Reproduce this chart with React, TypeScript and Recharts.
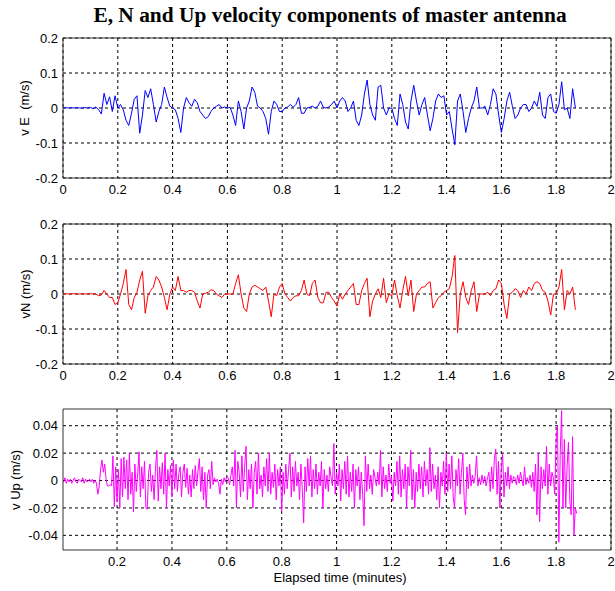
import React from 'react';
import { LineChart, Line, XAxis, YAxis, CartesianGrid } from 'recharts';

// ---- data ----
const EN_START = 0;
const EN_STEP = 0.01;
const UP_START = 0.005;
const UP_STEP = 0.005;

const vE = [
  0, 0.001, 0, 0.001, 0, 0.001, 0, 0, 0.001, 0,
  0.002, -0.002, 0.003, -0.005, -0.017, 0.042, 0.01, 0.032, -0.01, 0.035,
  0.0, 0.01, -0.005, -0.035, -0.05, -0.015, 0.025, 0.035, -0.072, -0.02,
  0.05, 0.03, 0.055, 0.01, -0.04, -0.01, 0.01, 0.06, 0.03, 0.005,
  0.0, -0.005, -0.03, -0.07, 0.0, 0.03, 0.015, 0.005, 0.025, 0.015,
  -0.01, -0.02, -0.03, -0.025, -0.01, 0.0, 0.005, 0.01, 0.0, 0.003,
  0.0, 0.002, -0.02, -0.05, 0.02, -0.01, -0.06, 0.0, 0.02, 0.06,
  0.045, 0.005, 0.0, -0.01, -0.03, -0.075, -0.01, 0.02, 0.01, -0.01,
  -0.01, 0.0, 0.003, 0.01, 0.002, 0.01, 0.03, -0.015, -0.015, 0.0,
  0.002, 0.005, 0.0, 0.005, 0.02, 0.002, 0.0, 0.003, 0.01, 0.02,
  0.0, 0.02, 0.03, 0.02, -0.01, 0.0, 0.02, -0.035, -0.05, -0.02,
  0.04, 0.08, 0.01, -0.02, -0.035, 0.06, 0.065, 0.0, -0.02, 0.0,
  0.0, -0.03, -0.05, 0.04, 0.01, -0.04, -0.06, 0.02, 0.065, 0.02,
  -0.02, 0.01, 0.03, -0.02, -0.065, -0.03, 0.02, 0.04, 0.03, 0.035,
  -0.02, -0.01, -0.06, -0.105, 0.02, 0.04, -0.01, -0.07, -0.03, 0.0,
  0.02, 0.06, 0.0, 0.0, 0.005, -0.02, 0.01, 0.055, 0.04, -0.02,
  -0.07, -0.03, 0.02, 0.045, 0.005, -0.03, -0.02, 0.0, 0.01, 0.01,
  -0.01, 0.0, 0.02, 0.005, 0.045, -0.02, -0.03, 0.03, 0.04, -0.01,
  -0.015, 0.01, 0.075, -0.005, 0.0, -0.03, 0.055, 0.0,
];

const vN = [
  0, 0.001, 0, 0, 0.001, 0, 0, 0.001, 0, 0,
  0.001, 0, 0.0, -0.005, -0.003, 0.01, 0.0, -0.01, -0.01, -0.03,
  -0.025, 0.0, 0.03, 0.07, -0.03, -0.045, -0.01, 0.005, 0.04, 0.065,
  -0.055, -0.005, 0.01, 0.02, 0.05, 0.04, 0.02, -0.01, -0.045, 0.0,
  0.02, 0.01, 0.05, 0.01, 0.01, 0.005, 0.01, 0.01, 0.005, -0.02,
  -0.04, 0.0, 0.002, 0.005, 0.012, 0.01, 0.0, -0.005, -0.01, 0.0,
  0.0, 0.0, 0.0, 0.03, 0.055, 0.0, -0.04, -0.05, 0.0, 0.02,
  0.025, 0.02, 0.015, 0.01, 0.02, -0.02, -0.065, 0.0, -0.005, 0.02,
  0.03, 0.0, -0.01, -0.02, -0.01, -0.005, -0.005, 0.01, 0.04, 0.0,
  -0.005, 0.03, 0.04, -0.01, -0.025, -0.025, 0.005, 0.005, -0.01, -0.02,
  -0.035, 0.0, -0.015, 0.0, 0.01, 0.02, 0.03, -0.03, -0.03, 0.01,
  0.03, 0.045, -0.065, -0.02, 0.0, 0.015, -0.01, 0.045, -0.025, 0.0,
  -0.005, 0.04, -0.005, -0.04, 0.01, 0.05, -0.005, 0.04, -0.05, 0.0,
  0.01, 0.02, 0.02, 0.03, 0.035, -0.04, -0.025, -0.01, -0.005, 0.005,
  0.01, 0.015, 0.05, 0.11, -0.11, 0.0, 0.035, -0.01, -0.03, 0.01,
  0.035, -0.05, 0.0, 0.0, 0.0, 0.005, -0.005, 0.01, 0.015, 0.04,
  0.03, -0.03, -0.07, 0.0, 0.005, 0.015, 0.01, -0.01, 0.01, 0.0,
  0.02, 0.01, 0.03, 0.035, 0.03, 0.01, 0.005, -0.02, -0.06, 0.0,
  0.0, 0.02, 0.07, -0.045, 0.01, 0.0, 0.02, -0.045,
];

const vUp = [
  -0.001, 0.002, -0.002, 0.001, -0.001, 0.001, -0.002, 0.0, 0.002, -0.001, -0.002, 0.001, 0.0, -0.001, 0.002, -0.002, 0.001, -0.001, 0.0, 0.001,
  -0.001, 0.001, -0.002, 0.0, -0.002, -0.01, -0.004, 0.008, 0.015, 0.006, 0.012, 0.001, -0.004, -0.004, -0.003, -0.004, 0.018, -0.019, 0.01, -0.015,
  0.008, -0.02, 0.016, -0.012, 0.017, -0.006, 0.015, -0.014, 0.02, -0.01, 0.006, -0.023, 0.012, -0.008, 0.004, 0.021, -0.012, 0.01, -0.006, 0.014,
  -0.02, -0.021, 0.006, 0.012, -0.008, 0.004, -0.014, 0.009, 0.022, -0.015, 0.01, -0.006, 0.013, -0.01, 0.02, -0.02, 0.008, -0.004, 0.011, -0.012,
  0.015, -0.006, 0.012, -0.008, 0.005, 0.01, -0.012, 0.006, 0.012, -0.005, 0.009, -0.01, 0.004, -0.012, 0.008, -0.006, 0.011, -0.004, 0.007, 0.016,
  -0.008, 0.01, -0.014, 0.006, -0.02, 0.004, 0.008, -0.006, 0.014, -0.003, 0.002, -0.001, 0.001, -0.002, -0.01, 0.001, -0.003, 0.002, -0.001, 0.003,
  0.002, -0.003, 0.004, 0.01, -0.004, 0.022, -0.02, 0.014, 0.006, -0.012, 0.018, -0.008, 0.01, 0.025, -0.014, 0.008, -0.006, 0.012, -0.02, 0.006,
  0.014, -0.01, 0.02, -0.006, 0.004, -0.012, 0.01, -0.004, 0.016, -0.008, 0.02, -0.01, 0.006, -0.005, 0.012, -0.014, 0.008, -0.004, 0.01, -0.022,
  0.006, -0.01, 0.012, -0.006, 0.008, 0.02, -0.012, 0.01, -0.008, 0.014, -0.004, 0.006, -0.014, 0.012, -0.006, -0.031, 0.01, -0.008, 0.016, -0.004,
  0.018, -0.012, 0.008, -0.006, 0.012, -0.01, 0.006, -0.004, 0.014, -0.02, 0.008, -0.006, 0.004, -0.008, 0.01, 0.002, -0.004, 0.027, -0.01, 0.006,
  -0.004, 0.012, -0.015, 0.008, -0.006, 0.014, -0.01, 0.018, -0.012, 0.006, -0.008, 0.012, -0.02, 0.008, -0.004, 0.01, -0.014, 0.006, -0.01, -0.033,
  0.018, -0.008, 0.012, -0.006, 0.004, -0.01, 0.008, 0.002, -0.004, 0.006, -0.003, 0.022, -0.012, 0.01, -0.006, 0.004, -0.008, 0.012, -0.002, 0.003,
  -0.015, 0.006, -0.004, 0.014, -0.01, 0.018, -0.012, 0.008, -0.006, 0.012, -0.02, 0.01, -0.004, 0.022, -0.014, 0.008, -0.02, 0.006, -0.008, 0.012,
  -0.006, 0.01, -0.012, 0.014, -0.004, 0.008, -0.01, 0.024, -0.008, 0.012, -0.006, 0.004, -0.014, 0.01, -0.02, 0.006, -0.004, 0.014, -0.01, 0.02,
  -0.008, 0.012, -0.006, 0.018, -0.012, -0.02, 0.008, -0.004, 0.016, -0.01, 0.006, 0.02, -0.014, -0.025, 0.01, -0.006, 0.012, -0.004, 0.004, -0.002,
  0.003, 0.018, -0.004, 0.002, -0.003, 0.004, -0.002, 0.003, -0.004, 0.002, 0.006, -0.008, 0.01, -0.006, 0.016, 0.023, -0.01, 0.014, -0.02, 0.008,
  0.02, -0.012, 0.006, -0.004, 0.01, -0.006, 0.004, -0.002, 0.003, 0.002, -0.003, 0.004, -0.002, 0.006, 0.001, -0.004, 0.01, -0.003, 0.002, -0.002,
  0.004, -0.005, 0.006, -0.008, 0.012, -0.025, 0.02, -0.03, 0.01, -0.006, 0.008, -0.004, 0.025, -0.01, 0.012, -0.004, 0.006, 0.002, -0.01, 0.03,
  0.04, -0.045, 0.02, 0.051, -0.02, 0.03, -0.02, 0.01, 0.028, -0.015, -0.025, 0.032, -0.04, -0.02, -0.024,
];

const xTicksEN = [0, 0.2, 0.4, 0.6, 0.8, 1, 1.2, 1.4, 1.6, 1.8, 2];
const xTicksUp = [0.2, 0.4, 0.6, 0.8, 1, 1.2, 1.4, 1.6, 1.8, 2];
const yTicksEN = [-0.2, -0.1, 0, 0.1, 0.2];
const yTicksUp = [-0.04, -0.02, 0, 0.02, 0.04];
const xDomainEN: [number, number] = [0, 2];
const xDomainUp: [number, number] = [0.003, 2];
const yDomainEN: [number, number] = [-0.2, 0.2];
const yDomainUp: [number, number] = [-0.0507, 0.0522];

const TITLE = 'E, N and Up velocity components of master antenna';
const X_LABEL = 'Elapsed time (minutes)';
const Y_LABELS = ['v E\u00a0 (m/s)', 'vN (m/s)', 'v Up (m/s)'];

const toData = (vals: number[], start: number, step: number) =>
  vals.map((v, i) => ({ t: Math.round((start + i * step) * 1000) / 1000, v }));

const dataE = toData(vE, EN_START, EN_STEP);
const dataN = toData(vN, EN_START, EN_STEP);
const dataUp = toData(vUp, UP_START, UP_STEP);

const SANS = 'Liberation Sans, Arial, Helvetica, sans-serif';
const tickStyle = { fontFamily: SANS, fontSize: 13, fill: '#000' };
const FRAME = '#333';

type PanelProps = {
  top: number;
  height: number;
  marginTop: number;
  xAxisHeight: number;
  data: { t: number; v: number }[];
  color: string;
  xDomain: [number, number];
  xTicks: number[];
  yDomain: [number, number];
  yTicks: number[];
};

function Panel(p: PanelProps) {
  return (
    <div style={{ position: 'absolute', left: 0, top: p.top }}>
      <LineChart
        width={615}
        height={p.height}
        data={p.data}
        margin={{ top: p.marginTop, right: 4, bottom: 0, left: 0 }}
      >
        <CartesianGrid
          stroke="#000"
          strokeDasharray="3 3"
          horizontalValues={p.yTicks}
          verticalValues={p.xTicks}
        />
        <XAxis
          type="number"
          dataKey="t"
          domain={p.xDomain}
          ticks={p.xTicks}
          interval={0}
          allowDataOverflow
          height={p.xAxisHeight}
          tickLine={false}
          tickSize={0}
          tickMargin={7}
          axisLine={{ stroke: FRAME }}
          tick={tickStyle}
        />
        <YAxis
          type="number"
          domain={p.yDomain}
          ticks={p.yTicks}
          interval={0}
          allowDataOverflow
          width={63}
          tickLine={false}
          tickSize={0}
          tickMargin={5}
          axisLine={{ stroke: FRAME }}
          tick={tickStyle}
        />
        <XAxis
          xAxisId="top"
          orientation="top"
          type="number"
          dataKey="t"
          domain={p.xDomain}
          ticks={p.xTicks}
          interval={0}
          allowDataOverflow
          mirror
          tick={false}
          tickSize={5}
          tickLine={{ stroke: FRAME }}
          axisLine={{ stroke: FRAME }}
        />
        <XAxis
          xAxisId="bottomTicks"
          orientation="bottom"
          type="number"
          dataKey="t"
          domain={p.xDomain}
          ticks={p.xTicks}
          interval={0}
          allowDataOverflow
          mirror
          tick={false}
          tickSize={5}
          tickLine={{ stroke: FRAME }}
          axisLine={false}
        />
        <YAxis
          yAxisId="right"
          orientation="right"
          type="number"
          domain={p.yDomain}
          ticks={p.yTicks}
          interval={0}
          allowDataOverflow
          mirror
          tick={false}
          tickSize={5}
          tickLine={{ stroke: FRAME }}
          axisLine={{ stroke: FRAME }}
        />
        <YAxis
          yAxisId="leftTicks"
          orientation="left"
          type="number"
          domain={p.yDomain}
          ticks={p.yTicks}
          interval={0}
          allowDataOverflow
          mirror
          tick={false}
          tickSize={5}
          tickLine={{ stroke: FRAME }}
          axisLine={false}
        />
        <Line
          type="linear"
          dataKey="v"
          stroke={p.color}
          strokeWidth={1}
          dot={false}
          isAnimationActive={false}
        />
      </LineChart>
    </div>
  );
}

export default function App() {
  return (
    <div
      style={{
        position: 'absolute',
        left: 0,
        top: 0,
        width: 615,
        height: 591,
        background: '#fff',
        overflow: 'hidden',
      }}
    >
      <Panel
        top={0}
        height={200}
        marginTop={38}
        xAxisHeight={22}
        data={dataE}
        color="#0000ff"
        xDomain={xDomainEN}
        xTicks={xTicksEN}
        yDomain={yDomainEN}
        yTicks={yTicksEN}
      />
      <Panel
        top={200}
        height={190}
        marginTop={24}
        xAxisHeight={26}
        data={dataN}
        color="#ff0000"
        xDomain={xDomainEN}
        xTicks={xTicksEN}
        yDomain={yDomainEN}
        yTicks={yTicksEN}
      />
      <Panel
        top={390}
        height={201}
        marginTop={19}
        xAxisHeight={41}
        data={dataUp}
        color="#ff00ff"
        xDomain={xDomainUp}
        xTicks={xTicksUp}
        yDomain={yDomainUp}
        yTicks={yTicksUp}
      />
      <svg
        width={615}
        height={591}
        style={{ position: 'absolute', left: 0, top: 0, pointerEvents: 'none' }}
      >
        <text
          x={330}
          y={22}
          textAnchor="middle"
          fontFamily="Liberation Serif, Times New Roman, serif"
          fontWeight="bold"
          fontSize={21.4}
          fill="#000"
        >
          {TITLE}
        </text>
        <text
          transform="translate(29,108) rotate(-90)"
          textAnchor="middle"
          fontFamily={SANS}
          fontSize={13}
          fill="#000"
        >
          {Y_LABELS[0]}
        </text>
        <text
          transform="translate(30,294) rotate(-90)"
          textAnchor="middle"
          fontFamily={SANS}
          fontSize={13}
          fill="#000"
        >
          {Y_LABELS[1]}
        </text>
        <text
          transform="translate(20,480) rotate(-90)"
          textAnchor="middle"
          fontFamily={SANS}
          fontSize={13}
          fill="#000"
        >
          {Y_LABELS[2]}
        </text>
        <text
          x={340}
          y={582}
          textAnchor="middle"
          fontFamily={SANS}
          fontSize={13}
          fill="#000"
        >
          {X_LABEL}
        </text>
      </svg>
    </div>
  );
}
